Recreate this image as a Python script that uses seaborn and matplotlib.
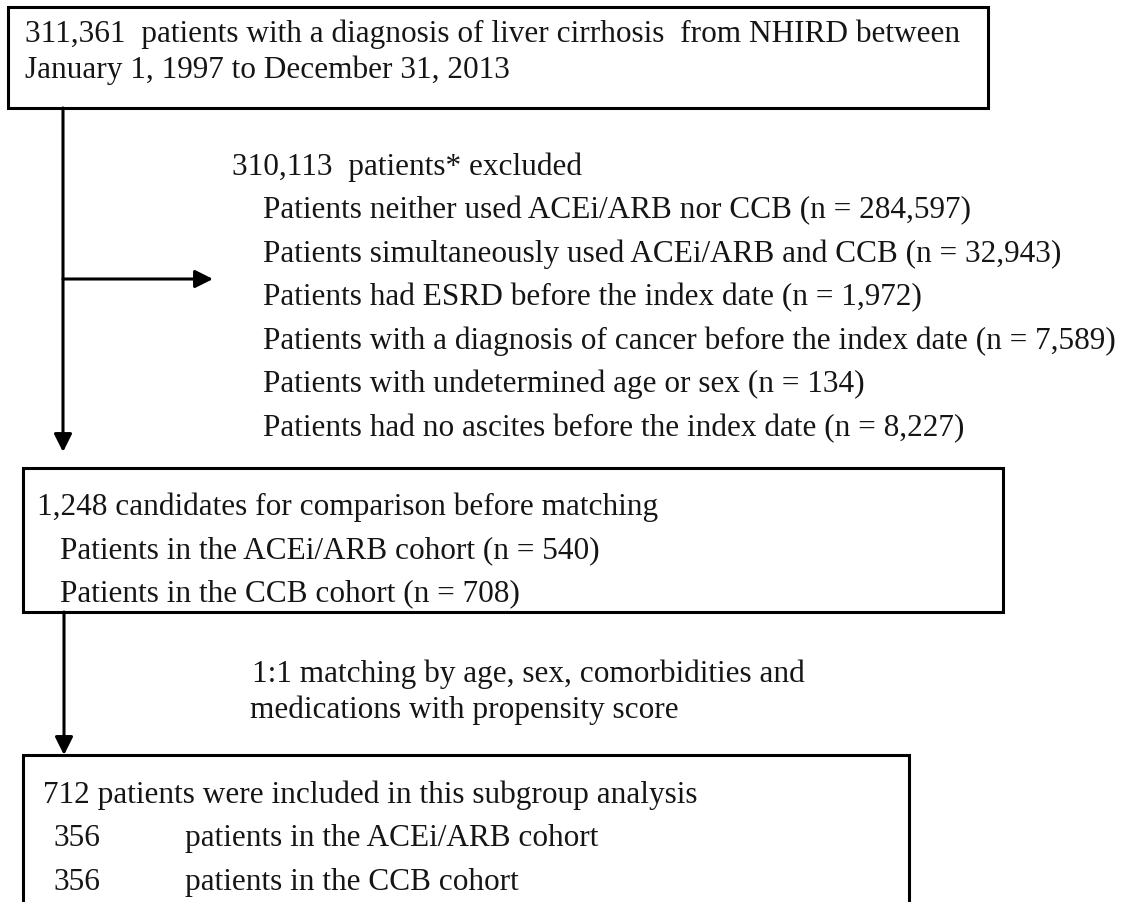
import matplotlib
matplotlib.use("Agg")
import matplotlib.pyplot as plt
import seaborn as sns

# --- chart data ---------------------------------------------------------
total_patients = "311,361"
study_period = "January 1, 1997 to December 31, 2013"
excluded_total = "310,113"
exclusion_reasons = [
    "Patients neither used ACEi/ARB nor CCB",
    "Patients simultaneously used ACEi/ARB and CCB",
    "Patients had ESRD before the index date",
    "Patients with a diagnosis of cancer before the index date",
    "Patients with undetermined age or sex",
    "Patients had no ascites before the index date",
]
exclusion_counts = ["284,597", "32,943", "1,972", "7,589", "134", "8,227"]
candidates_total = "1,248"
cohort_names = ["ACEi/ARB", "CCB"]
cohort_counts = ["540", "708"]
matching_text = ["1:1 matching by age, sex, comorbidities and",
                 "medications with propensity score"]
matched_total = "712"
matched_counts = ["356", "356"]

sns.set_theme(style="white")
plt.rcParams["font.family"] = ["Liberation Serif", "DejaVu Serif"]

W, H = 1144, 902
fig = plt.figure(figsize=(W / 100, H / 100), dpi=100)
ax = fig.add_axes([0, 0, 1, 1])
ax.set_xlim(0, W)
ax.set_ylim(H, 0)
ax.axis("off")

fs = 22.5
ink = "#151515"
lw = 2.2


def box(x0, y0, x1, y1):
    ax.plot([x0, x1, x1, x0, x0], [y0, y0, y1, y1, y0], color="black",
            lw=lw, solid_joinstyle="miter")


def txt(x, y, s):
    ax.text(x, y, s, fontsize=fs, color=ink, va="baseline", ha="left")


def arrow(x0, y0, x1, y1):
    ax.annotate("", xy=(x1, y1), xytext=(x0, y0),
                arrowprops=dict(arrowstyle="-|>,head_length=0.6,head_width=0.3",
                                mutation_scale=18, lw=lw, color="black",
                                shrinkA=0, shrinkB=0))


# top box
box(8, 7, 988, 108)
txt(25, 42, f"{total_patients}  patients with a diagnosis of liver cirrhosis  from NHIRD between")
txt(25, 78, study_period)

# exclusion branch
arrow(63, 108, 63, 452)
arrow(63, 279, 213, 279)
txt(232, 175, f"{excluded_total}  patients* excluded")
for i, (r, n) in enumerate(zip(exclusion_reasons, exclusion_counts)):
    txt(263, 218 + i * 43.6, f"{r} (n = {n})")

# candidates box
box(23, 468, 1003, 612)
txt(37, 515, f"{candidates_total} candidates for comparison before matching")
for i, (c, n) in enumerate(zip(cohort_names, cohort_counts)):
    txt(60, 558 + i * 43.6, f"Patients in the {c} cohort (n = {n})")

# matching
arrow(64, 612, 64, 755)
txt(252, 682, matching_text[0])
txt(250, 718, matching_text[1])

# matched box (cut off at the bottom)
box(23, 755, 909, 930)
txt(43, 803, f"{matched_total} patients were included in this subgroup analysis")
for i, (c, n) in enumerate(zip(cohort_names, matched_counts)):
    txt(53, 846 + i * 43.6, n)
    txt(185, 846 + i * 43.6, f"patients in the {c} cohort")

fig.savefig("out.png", dpi=100, facecolor="white")
